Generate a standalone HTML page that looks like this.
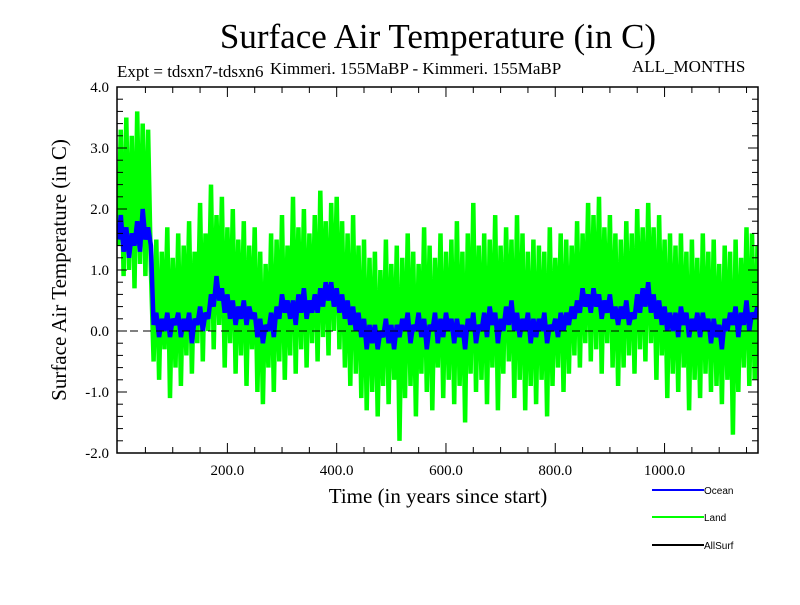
<!DOCTYPE html>
<html><head><meta charset="utf-8"><style>
body{margin:0;background:#fff}
svg text{font-family:"Liberation Serif",serif}
</style></head><body>
<svg id="chart" width="800" height="600" viewBox="0 0 800 600" xmlns="http://www.w3.org/2000/svg">
<rect width="800" height="600" fill="#fff"/>
<defs><clipPath id="pc"><rect x="117" y="87" width="641" height="366"/></clipPath></defs>
<text x="438" y="48" font-size="35" text-anchor="middle">Surface Air Temperature (in C)</text>
<text x="117" y="77" font-size="17">Expt = tdsxn7-tdsxn6</text>
<text x="270" y="74" font-size="17">Kimmeri. 155MaBP - Kimmeri. 155MaBP</text>
<text x="632" y="72" font-size="17">ALL_MONTHS</text>
<g id="series" clip-path="url(#pc)"></g>
<g id="axes"></g>
<text x="438" y="503" font-size="21" text-anchor="middle">Time (in years since start)</text>
<text transform="translate(66,270) rotate(-90)" font-size="21" text-anchor="middle">Surface Air Temperature (in C)</text>
<g>
<line x1="652" y1="490" x2="704" y2="490" stroke="#0000ff" stroke-width="2"/>
<text x="704" y="494" font-size="10" style="font-family:'Liberation Sans',sans-serif">Ocean</text>
<line x1="652" y1="517" x2="704" y2="517" stroke="#00ff00" stroke-width="2"/>
<text x="704" y="521" font-size="10" style="font-family:'Liberation Sans',sans-serif">Land</text>
<line x1="652" y1="545" x2="704" y2="545" stroke="#000" stroke-width="2"/>
<text x="704" y="549" font-size="10" style="font-family:'Liberation Sans',sans-serif">AllSurf</text>
</g>
</svg>
<script>
const yearStep = 5;
const landValues = [1.4,3.3,0.9,3.5,1.0,3.2,0.7,3.6,1.1,3.4,0.9,3.3,1.0,
-0.5,1.5,-0.8,1.3,-0.3,1.7,-1.1,1.2,-0.6,1.6,
-0.9,1.4,-0.4,1.8,-0.7,1.3,-0.2,2.1,-0.5,1.6,
0.0,2.4,-0.3,1.9,0.1,2.2,-0.6,1.7,-0.2,2.0,
-0.7,1.5,-0.4,1.8,-0.9,1.4,-0.3,1.7,-1.0,1.3,
-1.2,1.1,-0.6,1.6,-1.0,1.5,-0.5,1.9,-0.8,1.4,
-0.4,2.2,-0.7,1.7,-0.3,2.0,-0.6,1.6,-0.2,1.9,
-0.5,2.3,-0.1,1.8,-0.4,2.1,0.0,2.2,-0.3,1.8,
-0.6,1.6,-0.9,1.9,-0.7,1.4,-1.1,1.5,-1.3,1.2,
-1.0,1.3,-1.4,1.0,-0.9,1.5,-1.2,1.1,-0.8,1.4,
-1.8,1.2,-1.1,1.6,-0.9,1.3,-1.4,1.1,-0.7,1.7,
-1.0,1.4,-1.3,1.2,-0.6,1.6,-1.1,1.3,-0.8,1.5,
-1.2,1.8,-0.9,1.3,-1.5,1.6,-0.7,2.1,-1.0,1.4,
-0.8,1.6,-1.2,1.5,-0.6,1.9,-1.3,1.4,-0.7,1.7,
-0.5,1.5,-1.1,1.9,-0.8,1.6,-1.3,1.3,-0.9,1.5,
-1.2,1.4,-0.8,1.3,-1.4,1.7,-0.9,1.2,-0.6,1.6,
-1.0,1.5,-0.7,1.4,-0.4,1.8,-0.6,1.6,-0.2,2.1,
-0.5,1.9,-0.3,2.2,-0.7,1.7,-0.2,1.9,-0.6,1.6,
-0.9,1.5,-0.6,1.8,-0.4,1.6,-0.7,2.0,-0.3,1.7,
-0.5,2.1,-0.2,1.7,-0.8,1.9,-0.4,1.5,-1.1,1.6,
-0.7,1.4,-1.0,1.6,-0.6,1.3,-1.3,1.5,-0.8,1.2,
-1.1,1.6,-0.7,1.3,-1.0,1.5,-0.9,1.1,-1.2,1.4,
-0.8,1.3,-1.7,1.5,-1.0,1.2,-0.6,1.7,-0.9,1.6,
-0.8,1.4];
const oceanValues = [1.5,1.9,1.3,1.7,1.2,1.6,1.4,1.8,1.3,2.0,1.5,1.7,1.4,
0.1,0.3,-0.1,0.2,0.0,0.3,-0.1,0.2,0.1,0.3,
-0.1,0.2,0.0,0.3,-0.2,0.2,0.1,0.4,0.0,0.3,
0.2,0.6,0.4,0.9,0.5,0.7,0.3,0.6,0.2,0.5,
0.1,0.4,0.2,0.5,0.1,0.4,0.2,0.3,-0.1,0.2,
-0.2,0.1,0.0,0.3,-0.1,0.4,0.2,0.6,0.3,0.5,
0.2,0.5,0.1,0.6,0.3,0.7,0.2,0.5,0.3,0.6,
0.3,0.7,0.4,0.8,0.5,0.8,0.4,0.7,0.3,0.6,
0.2,0.5,0.1,0.4,0.0,0.3,-0.1,0.2,-0.3,0.1,
-0.2,0.1,-0.3,0.0,-0.1,0.2,-0.2,0.1,-0.3,0.1,
-0.1,0.2,0.0,0.3,-0.2,0.1,0.0,0.3,-0.1,0.2,
-0.3,0.1,0.0,0.3,-0.2,0.2,-0.1,0.3,0.0,0.2,
-0.2,0.2,-0.1,0.1,-0.3,0.2,0.0,0.3,-0.2,0.1,
0.0,0.3,-0.1,0.4,0.1,0.3,-0.2,0.2,0.0,0.4,
0.1,0.5,0.0,0.3,-0.1,0.2,0.0,0.3,-0.2,0.2,
-0.1,0.2,0.0,0.3,-0.2,0.1,0.0,0.2,-0.1,0.3,
0.0,0.3,0.1,0.4,0.2,0.5,0.3,0.7,0.4,0.6,
0.3,0.7,0.4,0.6,0.2,0.5,0.3,0.6,0.2,0.4,
0.1,0.4,0.2,0.5,0.1,0.3,0.2,0.6,0.3,0.7,
0.4,0.8,0.3,0.6,0.2,0.5,0.1,0.4,0.0,0.3,
0.0,0.3,-0.1,0.4,0.1,0.3,-0.1,0.2,0.0,0.3,
-0.1,0.3,0.0,0.2,-0.2,0.2,-0.1,0.1,-0.3,0.2,
0.0,0.3,0.1,0.4,-0.1,0.3,0.1,0.5,0.0,0.3,
0.2,0.4];
const xTickLabels = ["200.0","400.0","600.0","800.0","1000.0"];
const xTickValues = [200,400,600,800,1000];
const yTickLabels = ["4.0","3.0","2.0","1.0","0.0","-1.0","-2.0"];
const yTickValues = [4,3,2,1,0,-1,-2];

const L=117,R=758,T=87,B=453, XMIN=-2, XMAX=1171, YMIN=-2, YMAX=4;
const NS="http://www.w3.org/2000/svg";
function sx(v){return L+(v-XMIN)/(XMAX-XMIN)*(R-L);}
function sy(v){return B-(v-YMIN)/(YMAX-YMIN)*(B-T);}
function mk(tag,attrs,parent){const e=document.createElementNS(NS,tag);for(const k in attrs)e.setAttribute(k,attrs[k]);parent.appendChild(e);return e;}
const series=document.getElementById('series'), axes=document.getElementById('axes');
function drawLine(vals,color,w,name){
  const d=vals.map((v,i)=>(i?'L':'M')+sx(i*yearStep).toFixed(1)+','+sy(v).toFixed(1)).join('');
  const p=mk('path',{d:d,fill:'none',stroke:color,'stroke-width':w,'stroke-linejoin':'bevel'},series);
  
  
}
drawLine(landValues,'#00ff00',4.5,'land-series');
drawLine(oceanValues,'#0000ff',4.5,'ocean-series');
const zl=mk('line',{x1:L,x2:R,y1:sy(0),y2:sy(0),stroke:'#000','stroke-width':1,'stroke-dasharray':'8,5'},axes);


const fr=mk('rect',{x:L,y:T,width:R-L,height:B-T,fill:'none',stroke:'#000','stroke-width':1.5},axes);


for(let v=50;v<XMAX;v+=50){
  const big=v%200===0, len=big?10:6;
  mk('line',{x1:sx(v),x2:sx(v),y1:B,y2:B-len,stroke:'#000','stroke-width':1},axes);
  mk('line',{x1:sx(v),x2:sx(v),y1:T,y2:T+len,stroke:'#000','stroke-width':1},axes);
}
for(let k=0;k<=30;k++){
  const v=YMIN+k*0.2, big=k%5===0, len=big?10:6;
  mk('line',{x1:L,x2:L+len,y1:sy(v),y2:sy(v),stroke:'#000','stroke-width':1},axes);
  mk('line',{x1:R,x2:R-len,y1:sy(v),y2:sy(v),stroke:'#000','stroke-width':1},axes);
}
xTickValues.forEach((v,i)=>{
  const t=mk('text',{x:sx(v),y:B+22,'font-size':15,'text-anchor':'middle'},axes);
  t.textContent=xTickLabels[i];
  
  
});
yTickValues.forEach((v,i)=>{
  const t=mk('text',{x:L-8,y:sy(v)+5,'font-size':15,'text-anchor':'end'},axes);
  t.textContent=yTickLabels[i];
  
  
});
</script>
</body></html>
